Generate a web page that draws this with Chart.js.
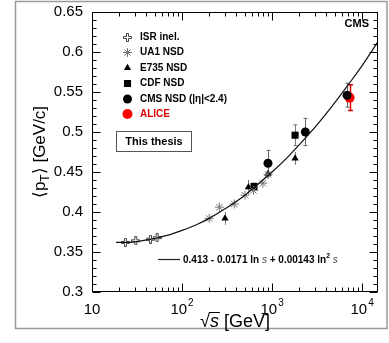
<!DOCTYPE html>
<html>
<head>
<meta charset="utf-8">
<script src="https://cdn.jsdelivr.net/npm/chart.js@4.4.0/dist/chart.umd.min.js"></script>
<style>
  html, body { margin: 0; padding: 0; background: #fff; }
</style>
</head>
<body>
<canvas id="g-pt" width="389" height="343"></canvas>
<script>
// sqrt(s) [GeV] and <pT> [GeV/c]
const isrX = [23.5, 30.6, 44.6, 52.8];
const isrY = [0.362, 0.364, 0.366, 0.368];
const ua1X = [200, 260, 380, 500, 620, 790, 900];
const ua1Y = [0.392, 0.406, 0.410, 0.421, 0.427, 0.436, 0.447];
const e735X = [300, 546, 900, 1800];
const e735Y = [0.392, 0.431, 0.448, 0.467];
const e735Err = [0.008, 0.009, 0.006, 0.008];
const cdfX = [630, 1800];
const cdfY = [0.432, 0.496];
const cdfErr = [0.004, 0.013];
const cmsX = [900, 2340, 6800];
const cmsY = [0.461, 0.500, 0.546];
const cmsErr = [0.016, 0.017, 0.015];
const aliceX = [7250];
const aliceY = [0.543];
const aliceErr = [0.016];

// points along the drawn fit line
const fitX = [18.5, 25, 35, 50, 70, 100, 150, 200, 300, 500, 700, 1000, 1500, 2000, 3000, 5000, 7000, 10000, 15000];
const fitY = [0.362, 0.362, 0.364, 0.367, 0.371, 0.377, 0.385, 0.392, 0.404, 0.421, 0.435, 0.450, 0.469, 0.484, 0.506, 0.537, 0.559, 0.583, 0.613];

const xTicks = [10, 100, 1000, 10000];
const xTickExp = ['', '2', '3', '4'];
const yTicks = [0.3, 0.35, 0.4, 0.45, 0.5, 0.55, 0.6, 0.65];

const fam = "'Liberation Sans', Arial, Helvetica, sans-serif";
Chart.defaults.font.family = fam;

function pts(xs, ys) {
    return xs.map((x, i) => ({ x: x, y: ys[i] }));
}

// ROOT-like open cross marker
function openCross(color) {
    const c = document.createElement('canvas');
    c.width = 9; c.height = 9;
    const g = c.getContext('2d');
    const p = [[3.5,0.5],[5.5,0.5],[5.5,3.5],[8.5,3.5],[8.5,5.5],[5.5,5.5],[5.5,8.5],[3.5,8.5],[3.5,5.5],[0.5,5.5],[0.5,3.5],[3.5,3.5]];
    g.beginPath();
    p.forEach((q, i) => i ? g.lineTo(q[0], q[1]) : g.moveTo(q[0], q[1]));
    g.closePath();
    g.fillStyle = '#fff';
    g.fill();
    g.strokeStyle = color;
    g.lineWidth = 1;
    g.stroke();
    return c;
}

const pageBox = {
    id: 'pageBox',
    beforeDraw(chart) {
        const ctx = chart.ctx;
        ctx.save();
        ctx.fillStyle = '#fff';
        ctx.fillRect(0, 0, chart.width, chart.height);
        ctx.strokeStyle = '#9a9a9a';
        ctx.lineWidth = 1.5;
        ctx.strokeRect(15.5, 1.5, 371.5, 327);
        ctx.restore();
    }
};

const errorBars = {
    id: 'errorBars',
    beforeDatasetsDraw(chart) {
        const { ctx, scales: { x, y } } = chart;
        chart.data.datasets.forEach(ds => {
            if (!ds.errors) return;
            ctx.save();
            ctx.strokeStyle = ds.errorColor;
            ctx.lineWidth = ds.errorWidth || 1;
            ds.data.forEach((p, k) => {
                const px = Math.round(x.getPixelForValue(p.x)) + 0.5;
                const top = y.getPixelForValue(p.y + ds.errors[k]);
                const bot = y.getPixelForValue(p.y - ds.errors[k]);
                const cw = ds.capWidth;
                ctx.beginPath();
                ctx.moveTo(px, top); ctx.lineTo(px, bot);
                ctx.moveTo(px - cw, top); ctx.lineTo(px + cw, top);
                ctx.moveTo(px - cw, bot); ctx.lineTo(px + cw, bot);
                ctx.stroke();
            });
            ctx.restore();
        });
    }
};

const frame = {
    id: 'frame',
    afterDraw(chart) {
        const { ctx, chartArea: a, scales: { x, y } } = chart;
        ctx.save();
        ctx.strokeStyle = '#000';
        ctx.lineWidth = 1;
        const L = Math.round(a.left) + 0.5, R = Math.round(a.right) - 0.5;
        const T = Math.round(a.top) + 0.5, B = Math.round(a.bottom) - 0.5;
        ctx.strokeRect(L, T, R - L, B - T);
        ctx.beginPath();
        // y ticks, inward on both sides
        for (let k = 30; k <= 65; k++) {
            const py = Math.round(y.getPixelForValue(k / 100)) + 0.5;
            const len = k % 5 === 0 ? 8 : 4;
            ctx.moveTo(L, py); ctx.lineTo(L + len, py);
            ctx.moveTo(R, py); ctx.lineTo(R - len, py);
        }
        // x ticks, inward on both sides
        xTicks.forEach(d => {
            for (let m = 1; m <= 9; m++) {
                const v = m * d;
                if (v > x.max) break;
                const px = Math.round(x.getPixelForValue(v)) + 0.5;
                const len = m === 1 ? 8 : 4;
                ctx.moveTo(px, B); ctx.lineTo(px, B - len);
                ctx.moveTo(px, T); ctx.lineTo(px, T + len);
            }
        });
        ctx.stroke();

        // x tick labels with exponents
        ctx.fillStyle = '#000';
        ctx.textBaseline = 'alphabetic';
        xTicks.forEach((v, i) => {
            const px = x.getPixelForValue(v);
            ctx.font = '15px ' + fam;
            const wb = ctx.measureText('10').width;
            ctx.font = '10px ' + fam;
            const we = xTickExp[i] ? ctx.measureText(xTickExp[i]).width + 1 : 0;
            const x0 = px - (wb + we) / 2;
            ctx.font = '15px ' + fam;
            ctx.textAlign = 'left';
            ctx.fillText('10', x0, 314);
            if (xTickExp[i]) {
                ctx.font = '10px ' + fam;
                ctx.fillText(xTickExp[i], x0 + wb + 1, 306);
            }
        });

        // x title: sqrt(s) [GeV]
        ctx.font = '18px ' + fam;
        const wr = ctx.measureText('\u221A').width;
        const mr = ctx.measureText('\u221A');
        ctx.font = 'italic 18px ' + fam;
        const ws = ctx.measureText('s').width;
        ctx.font = '18px ' + fam;
        const wg = ctx.measureText(' [GeV]').width;
        let xt = (a.left + a.right) / 2 - (wr + ws + wg) / 2;
        const bl = 327;
        ctx.fillText('\u221A', xt, bl);
        ctx.beginPath();
        ctx.lineWidth = 1;
        const topY = Math.round(bl - mr.actualBoundingBoxAscent) + 0.5;
        ctx.moveTo(xt + wr - 1, topY); ctx.lineTo(xt + wr + ws + 1, topY);
        ctx.stroke();
        ctx.font = 'italic 18px ' + fam;
        ctx.fillText('s', xt + wr, bl);
        ctx.font = '18px ' + fam;
        ctx.fillText(' [GeV]', xt + wr + ws, bl);

        // y title: <pT> [GeV/c]
        ctx.save();
        ctx.translate(40, (a.top + a.bottom) / 2);
        ctx.rotate(-Math.PI / 2);
        ctx.textBaseline = 'middle';
        ctx.font = '17px ' + fam;
        const w1 = ctx.measureText('\u27E8p').width;
        const w3 = ctx.measureText('\u27E9 [GeV/c]').width;
        ctx.font = '12px ' + fam;
        const w2 = ctx.measureText('T').width;
        let yt = -(w1 + w2 + w3) / 2;
        ctx.font = '17px ' + fam;
        ctx.fillText('\u27E8p', yt, 0);
        ctx.font = '12px ' + fam;
        ctx.fillText('T', yt + w1, 6);
        ctx.font = '17px ' + fam;
        ctx.fillText('\u27E9 [GeV/c]', yt + w1 + w2, 0);
        ctx.restore();

        // legend
        const lx = 127.5, ly = [37.5, 52.5, 68, 83.5, 99, 114];
        chart.data.datasets.filter(ds => ds.legend).forEach((ds, i) => {
            ctx.fillStyle = ds.backgroundColor;
            ctx.strokeStyle = ds.borderColor;
            ctx.lineWidth = ds.borderWidth;
            Chart.helpers.drawPoint(ctx, {
                pointStyle: ds.pointStyle, radius: ds.pointRadius,
                borderWidth: ds.borderWidth, rotation: 0
            }, lx, ly[i]);
            ctx.fillStyle = ds.labelColor || '#000';
            ctx.font = 'bold 10px ' + fam;
            ctx.textAlign = 'left';
            ctx.textBaseline = 'middle';
            ctx.fillText(ds.label, 140, ly[i]);
        });

        // This thesis box
        ctx.strokeStyle = '#555';
        ctx.lineWidth = 1;
        ctx.strokeRect(116.5, 131.5, 75, 20);
        ctx.fillStyle = '#000';
        ctx.font = 'bold 11px ' + fam;
        ctx.textAlign = 'center';
        ctx.fillText('This thesis', 154, 142);

        // CMS label
        ctx.textAlign = 'right';
        ctx.font = 'bold 11px ' + fam;
        ctx.fillText('CMS', 369, 24);

        // fit legend
        ctx.strokeStyle = '#222';
        ctx.lineWidth = 1.2;
        ctx.beginPath();
        ctx.moveTo(158, 259.5); ctx.lineTo(180, 259.5);
        ctx.stroke();
        ctx.textAlign = 'left';
        const parts = [
            ['bold 10px ', '0.413 - 0.0171 ln ', '#000', 0],
            ['italic 10px ', 's', '#444', 0],
            ['bold 10px ', ' + 0.00143 ln', '#000', 0],
            ['bold 7px ', '2', '#000', -4],
            ['bold 10px ', ' ', '#000', 0],
            ['italic 10px ', 's', '#444', 0]
        ];
        let fx = 183;
        parts.forEach(p => {
            ctx.font = p[0] + fam;
            ctx.fillStyle = p[2];
            ctx.fillText(p[1], fx, 260 + p[3]);
            fx += ctx.measureText(p[1]).width;
        });
        ctx.restore();
    }
};

const ctx = document.getElementById('g-pt').getContext('2d');

const config = {
    type: 'scatter',
    data: {
        datasets: [
            {
                label: 'fit', type: 'line', data: pts(fitX, fitY),
                borderColor: '#111', borderWidth: 1.2, pointRadius: 0,
                cubicInterpolationMode: 'monotone', fill: false
            },
            {
                label: 'ISR inel.', legend: true, data: pts(isrX, isrY),
                pointStyle: openCross('#444'), pointRadius: 5,
                backgroundColor: '#fff', borderColor: '#444', borderWidth: 1
            },
            {
                label: 'UA1 NSD', legend: true, data: pts(ua1X, ua1Y),
                pointStyle: 'star', pointRadius: 4.5,
                backgroundColor: '#777', borderColor: '#777', borderWidth: 1
            },
            {
                label: 'E735 NSD', legend: true, data: pts(e735X, e735Y),
                pointStyle: 'triangle', pointRadius: 4.2,
                backgroundColor: '#000', borderColor: '#000', borderWidth: 0,
                errors: e735Err, errorColor: '#777', capWidth: 0
            },
            {
                label: 'CDF NSD', legend: true, data: pts(cdfX, cdfY),
                pointStyle: 'rect', pointRadius: 5,
                backgroundColor: '#000', borderColor: '#000', borderWidth: 0,
                errors: cdfErr, errorColor: '#777', capWidth: 2
            },
            {
                label: 'CMS NSD (|\u03B7|<2.4)', legend: true, data: pts(cmsX, cmsY),
                pointStyle: 'circle', pointRadius: 4.5,
                backgroundColor: '#000', borderColor: '#000', borderWidth: 0,
                errors: cmsErr, errorColor: '#666', capWidth: 2
            },
            {
                label: 'ALICE', legend: true, labelColor: '#e00000', data: pts(aliceX, aliceY),
                pointStyle: 'circle', pointRadius: 5,
                backgroundColor: '#ff0000', borderColor: '#ff0000', borderWidth: 0,
                errors: aliceErr, errorColor: '#e00000', errorWidth: 1.5, capWidth: 2.5
            }
        ]
    },
    options: {
        responsive: false,
        animation: false,
        layout: { padding: { top: 12, right: 11, left: 0, bottom: 0 } },
        plugins: {
            legend: { display: false },
            tooltip: { enabled: false }
        },
        scales: {
            x: {
                type: 'logarithmic',
                min: 10,
                max: 15000,
                grid: { display: false, drawTicks: false },
                border: { display: false },
                ticks: { display: false },
                afterBuildTicks: s => { s.ticks = xTicks.map(v => ({ value: v })); },
                afterFit: s => { s.height = 51; s.paddingLeft = 0; s.paddingRight = 0; }
            },
            y: {
                min: 0.3,
                max: 0.65,
                grid: { display: false, drawTicks: false },
                border: { display: false },
                ticks: {
                    color: '#000',
                    font: { size: 15 },
                    padding: 9,
                    callback: v => String(+(+v).toFixed(2))
                },
                afterBuildTicks: s => { s.ticks = yTicks.map(v => ({ value: v })); },
                afterFit: s => { s.width = 92; s.paddingTop = 0; s.paddingBottom = 0; }
            }
        }
    },
    plugins: [pageBox, errorBars, frame]
};

const grafica = new Chart(ctx, config);
</script>
</body>
</html>
